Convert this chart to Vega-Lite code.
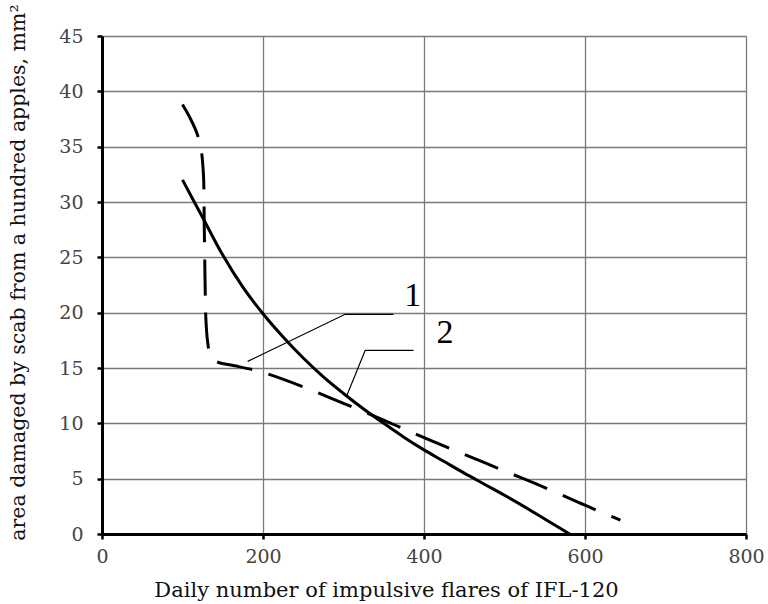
{
  "$schema": "https://vega.github.io/schema/vega-lite/v6.json",
  "autosize": "none",
  "width": 644,
  "height": 498,
  "padding": {"left": 102, "top": 36, "right": 22, "bottom": 70},
  "background": "white",
  "config": {"view": {"stroke": null}},
  "datasets": {
    "curve1": [
      {"i": 0, "x": 100, "y": 32.0},
      {"i": 1, "x": 125, "y": 28.6},
      {"i": 2, "x": 150, "y": 25.2},
      {"i": 3, "x": 175, "y": 22.3},
      {"i": 4, "x": 200, "y": 19.9},
      {"i": 5, "x": 225, "y": 17.8},
      {"i": 6, "x": 250, "y": 15.9},
      {"i": 7, "x": 275, "y": 14.2},
      {"i": 8, "x": 300, "y": 12.7},
      {"i": 9, "x": 325, "y": 11.3},
      {"i": 10, "x": 350, "y": 10.0},
      {"i": 11, "x": 375, "y": 8.75},
      {"i": 12, "x": 400, "y": 7.6},
      {"i": 13, "x": 425, "y": 6.55},
      {"i": 14, "x": 450, "y": 5.5},
      {"i": 15, "x": 475, "y": 4.5},
      {"i": 16, "x": 500, "y": 3.5},
      {"i": 17, "x": 525, "y": 2.45},
      {"i": 18, "x": 550, "y": 1.35},
      {"i": 19, "x": 581, "y": 0.0}
    ],
    "curve2": [
      {"i": 0, "x": 100, "y": 38.8},
      {"i": 1, "x": 110, "y": 37.5},
      {"i": 2, "x": 118, "y": 36.2},
      {"i": 3, "x": 123, "y": 34.8},
      {"i": 4, "x": 126, "y": 32.5},
      {"i": 5, "x": 127, "y": 28.0},
      {"i": 6, "x": 128, "y": 23.0},
      {"i": 7, "x": 129, "y": 19.5},
      {"i": 8, "x": 131, "y": 17.5},
      {"i": 9, "x": 134, "y": 16.3},
      {"i": 10, "x": 139, "y": 15.7},
      {"i": 11, "x": 147, "y": 15.45},
      {"i": 12, "x": 165, "y": 15.2},
      {"i": 13, "x": 200, "y": 14.6},
      {"i": 14, "x": 250, "y": 13.3},
      {"i": 15, "x": 300, "y": 11.8},
      {"i": 16, "x": 350, "y": 10.3},
      {"i": 17, "x": 400, "y": 8.7},
      {"i": 18, "x": 450, "y": 7.2},
      {"i": 19, "x": 500, "y": 5.7},
      {"i": 20, "x": 550, "y": 4.2},
      {"i": 21, "x": 600, "y": 2.6},
      {"i": 22, "x": 644, "y": 1.25}
    ],
    "leader1": [
      {"i": 0, "x": 181, "y": 15.6},
      {"i": 1, "x": 302, "y": 19.85},
      {"i": 2, "x": 362, "y": 19.85}
    ],
    "leader2": [
      {"i": 0, "x": 304, "y": 12.5},
      {"i": 1, "x": 327, "y": 16.6},
      {"i": 2, "x": 387, "y": 16.6}
    ],
    "labels": [
      {"label": "1", "x": 386, "y": 21.5},
      {"label": "2", "x": 426, "y": 18.2}
    ]
  },
  "encoding": {
    "x": {
      "field": "x", "type": "quantitative",
      "scale": {"domain": [0, 800], "nice": false, "zero": false},
      "axis": {
        "values": [0, 200, 400, 600, 800],
        "title": "Daily number of impulsive flares of IFL-120",
        "titleFont": "DejaVu Serif", "titleFontSize": 21, "titleFontWeight": "normal", "titleColor": "#111",
        "titleX": 284, "titleY": 56, "titleBaseline": "middle", "titleAnchor": "middle",
        "labelFont": "DejaVu Serif", "labelFontSize": 19, "labelColor": "#444", "labelPadding": 8,
        "labelFlush": false,
        "grid": true, "gridColor": "#7a7a7a", "gridWidth": 1.3,
        "domainColor": "#000", "domainWidth": 3,
        "tickColor": "#000", "tickSize": 5, "tickWidth": 2.5
      }
    },
    "y": {
      "field": "y", "type": "quantitative",
      "scale": {"domain": [0, 45], "nice": false, "zero": false},
      "axis": {
        "values": [0, 5, 10, 15, 20, 25, 30, 35, 40, 45],
        "title": "area damaged by scab from a hundred apples, mm²",
        "titleFont": "DejaVu Serif", "titleFontSize": 20.5, "titleFontWeight": "normal", "titleColor": "#111",
        "titleAngle": -90, "titleX": -84, "titleY": 236, "titleBaseline": "middle", "titleAnchor": "middle",
        "labelFont": "DejaVu Serif", "labelFontSize": 19, "labelColor": "#444", "labelPadding": 14,
        "labelFlush": false,
        "grid": true, "gridColor": "#7a7a7a", "gridWidth": 1.3,
        "domainColor": "#000", "domainWidth": 3,
        "tickColor": "#000", "tickSize": 5, "tickWidth": 2.5
      }
    }
  },
  "layer": [
    {
      "data": {"name": "curve1"},
      "mark": {"type": "line", "color": "#000", "strokeWidth": 3, "interpolate": "monotone", "clip": true},
      "encoding": {"order": {"field": "i", "type": "quantitative"}}
    },
    {
      "data": {"name": "curve2"},
      "mark": {"type": "line", "color": "#000", "strokeWidth": 3, "strokeDash": [36, 17], "interpolate": "catmull-rom", "clip": true},
      "encoding": {"order": {"field": "i", "type": "quantitative"}}
    },
    {
      "data": {"name": "leader1"},
      "mark": {"type": "line", "color": "#000", "strokeWidth": 1.2},
      "encoding": {"order": {"field": "i", "type": "quantitative"}}
    },
    {
      "data": {"name": "leader2"},
      "mark": {"type": "line", "color": "#000", "strokeWidth": 1.2},
      "encoding": {"order": {"field": "i", "type": "quantitative"}}
    },
    {
      "data": {"name": "labels"},
      "mark": {"type": "text", "font": "Liberation Serif", "fontSize": 34, "color": "#000", "align": "center", "baseline": "middle"},
      "encoding": {"text": {"field": "label", "type": "nominal"}}
    }
  ]
}
